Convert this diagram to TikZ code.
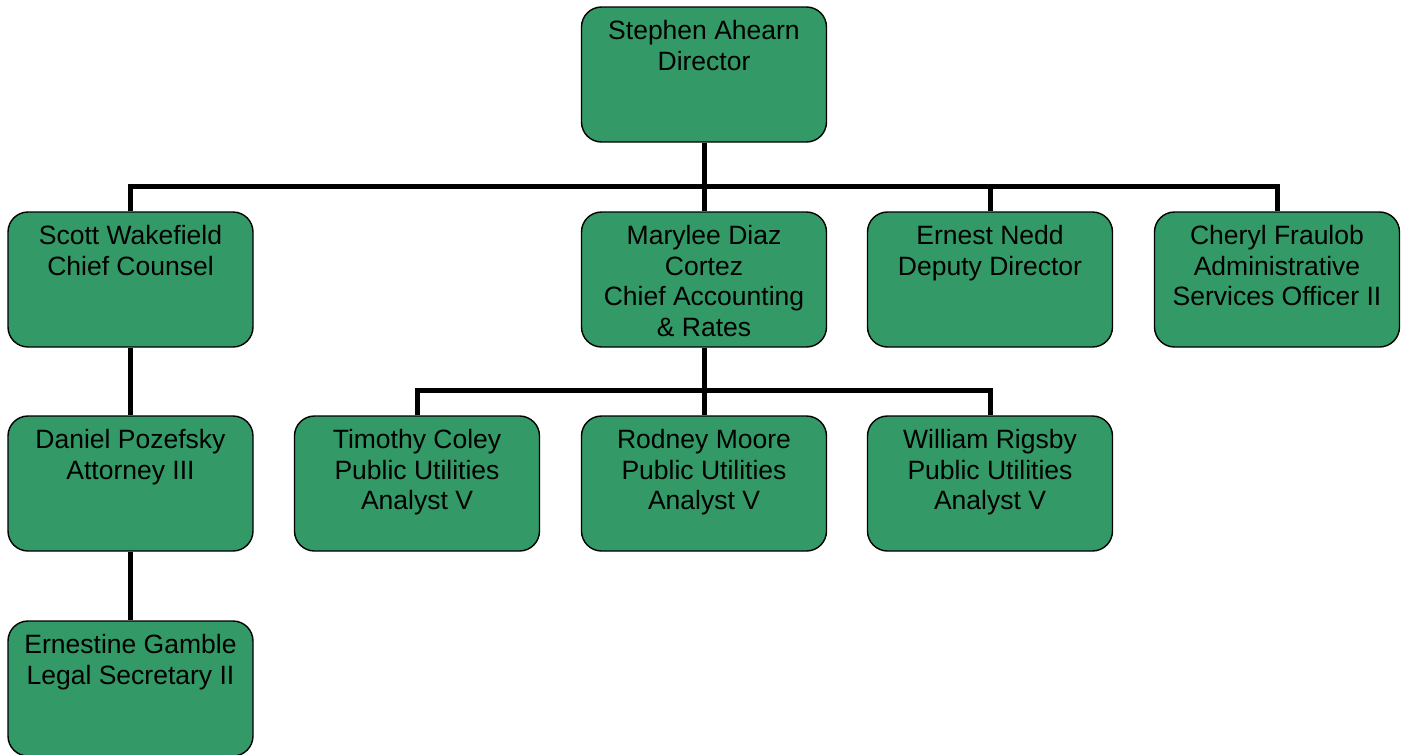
\documentclass[tikz,border=0pt]{standalone}
\usepackage{fontspec}
\setmainfont{Liberation Sans}
\definecolor{boxgreen}{RGB}{51,153,102}
\begin{document}
\begin{tikzpicture}[x=1pt,y=-1pt,
  box/.style={draw=black, line width=1.4pt, fill=boxgreen, rounded corners=20pt,
    minimum width=245pt, minimum height=135pt, inner sep=0pt},
  lbl/.style={anchor=north, inner sep=0pt, align=center,
    font=\fontsize{26.5}{30.5}\selectfont},
  conn/.style={line width=5pt, line join=miter}]
\useasboundingbox (0,0) rectangle (1406,755);
\coordinate (bus1) at (704,186);
\coordinate (bus2) at (704,390);
% boxes
\node[box] (dir) at (704,74.5) {};
\node[box] (sw) at (130.5,279.5) {};
\node[box] (mc) at (704,279.5) {};
\node[box] (en) at (990,279.5) {};
\node[box] (cf) at (1277,279.5) {};
\node[box] (dp) at (130.5,483.5) {};
\node[box] (tc) at (417,483.5) {};
\node[box] (rm) at (704,483.5) {};
\node[box] (wr) at (990,483.5) {};
\node[box] (eg) at (130.5,688.5) {};
% connectors
\draw[conn] (dir.south) -- (mc.north);
\draw[conn] (sw.north) -- (sw.north |- bus1) -- (cf.north |- bus1) -- (cf.north);
\draw[conn] (en.north |- bus1) -- (en.north);
\draw[conn] (mc.south) -- (rm.north);
\draw[conn] (tc.north) -- (tc.north |- bus2) -- (wr.north |- bus2) -- (wr.north);
\draw[conn] (sw.south) -- (dp.north);
\draw[conn] (dp.south) -- (eg.north);
% labels
\node[lbl] (tdir) at ([yshift=-14pt]dir.north) {Stephen Ahearn\\Director};
\node[lbl] (tsw) at ([yshift=-14pt]sw.north) {Scott Wakefield\\Chief Counsel};
\node[lbl] (tmc) at ([yshift=-14pt]mc.north) {Marylee Diaz\\Cortez\\Chief Accounting\\\& Rates};
\node[lbl] (ten) at ([yshift=-14pt]en.north) {Ernest Nedd\\Deputy Director};
\node[lbl] (tcf) at ([yshift=-14pt]cf.north) {Cheryl Fraulob\\Administrative\\Services Officer II};
\node[lbl] (tdp) at ([yshift=-14pt]dp.north) {Daniel Pozefsky\\Attorney III};
\node[lbl] (ttc) at ([yshift=-14pt]tc.north) {Timothy Coley\\Public Utilities\\Analyst V};
\node[lbl] (trm) at ([yshift=-14pt]rm.north) {Rodney Moore\\Public Utilities\\Analyst V};
\node[lbl] (twr) at ([yshift=-14pt]wr.north) {William Rigsby\\Public Utilities\\Analyst V};
\node[lbl] (teg) at ([yshift=-14pt]eg.north) {Ernestine Gamble\\Legal Secretary II};
\end{tikzpicture}
\end{document}
